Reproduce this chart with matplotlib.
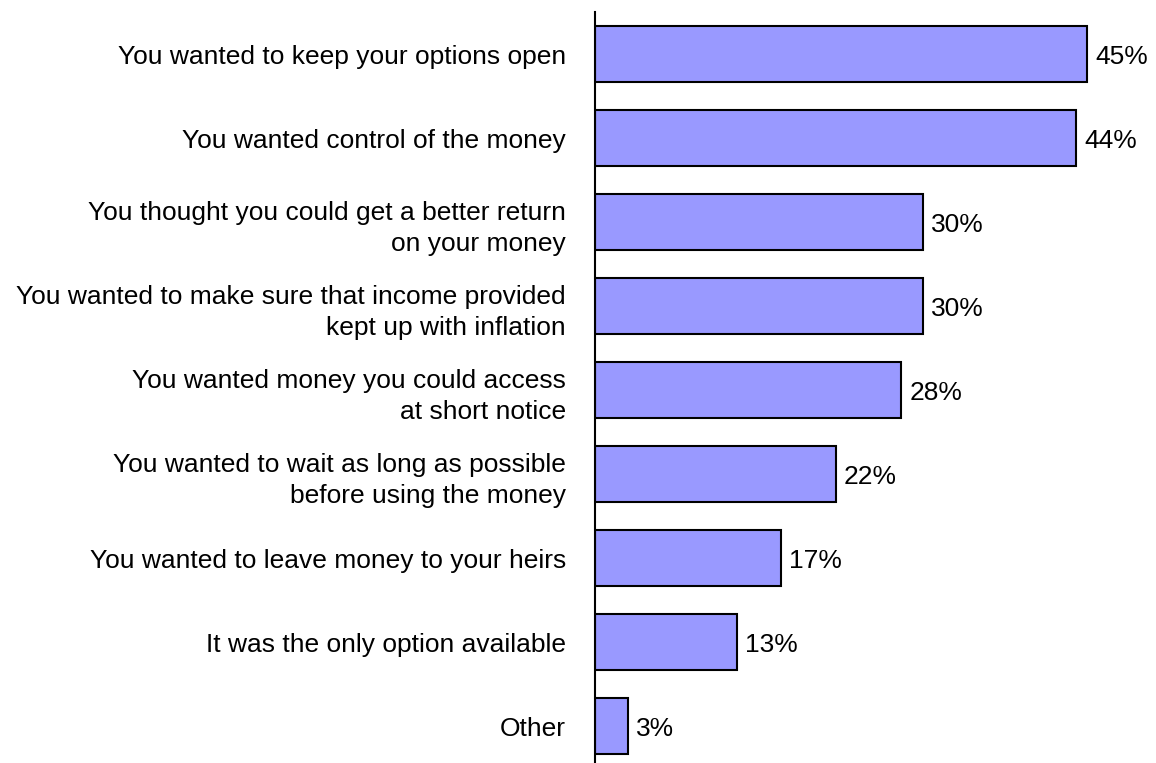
import matplotlib.pyplot as plt

plt.rcParams['font.family'] = ['Liberation Sans', 'DejaVu Sans']

reasons = [
    'You wanted to keep your options open',
    'You wanted control of the money',
    'You thought you could get a better return\non your money',
    'You wanted to make sure that income provided\nkept up with inflation',
    'You wanted money you could access\nat short notice',
    'You wanted to wait as long as possible\nbefore using the money',
    'You wanted to leave money to your heirs',
    'It was the only option available',
    'Other',
]
percent = [45, 44, 30, 30, 28, 22, 17, 13, 3]

fig = plt.figure(figsize=(11.56, 7.63), dpi=100)
ax = fig.add_axes([595 / 1156, 0, 558 / 1156, 751 / 763])

pos = range(len(reasons))
ax.barh(pos, percent, height=0.667, color='#9999ff', edgecolor='black', linewidth=1.5)

for y, v in zip(pos, percent):
    ax.text(v + 0.75, y + 0.03, f'{v}%', va='center', ha='left', fontsize=19)

ax.set_xlim(0, 51)
ax.set_ylim(8.44, -0.5)
ax.set_yticks(list(pos))
ax.set_yticklabels(reasons, fontsize=19, linespacing=1.4)
ax.tick_params(axis='y', length=0, pad=21)
ax.set_xticks([])

for s in ['top', 'right', 'bottom']:
    ax.spines[s].set_visible(False)
ax.spines['left'].set_linewidth(1.5)

fig.savefig('out.png', dpi=100)
